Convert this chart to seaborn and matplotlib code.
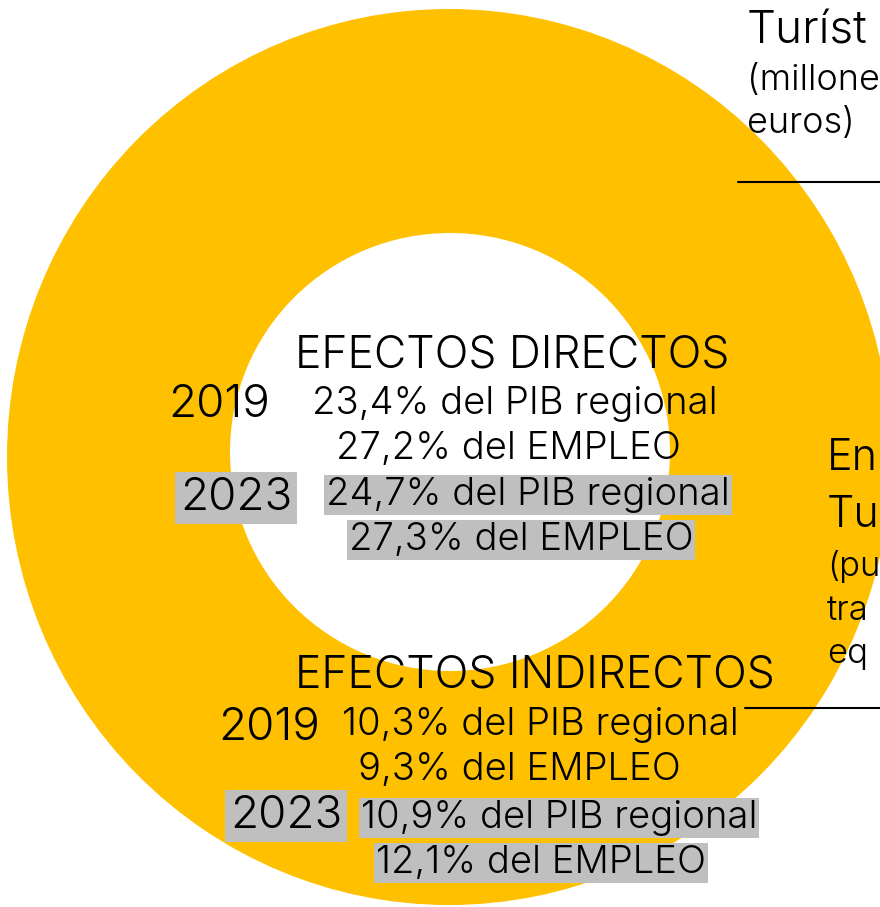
import matplotlib.pyplot as plt
import seaborn as sns
from matplotlib.patches import Ellipse

# datos de la infografia
years = ["2019", "2023"]
titulos = ["EFECTOS DIRECTOS", "EFECTOS INDIRECTOS"]
directos_pib = [23.4, 24.7]
directos_empleo = [27.2, 27.3]
indirectos_pib = [10.3, 10.9]
indirectos_empleo = [9.3, 12.1]
# lo que se ve de las etiquetas de la derecha (cortadas en el original)
etiqueta_gasto = ["Turíst", "(millone", "euros)"]
etiqueta_empleo = ["En", "Tu", "(pu", "tra", "eq"]

AMARILLO = "#FFC000"
GRIS = "#BFBFBF"

sns.set_theme(style="white")
plt.rcParams['font.family'] = ['Inter', 'DejaVu Sans']


def pct(v, texto):
    """formatea el valor con coma decimal"""
    return "{}% {}".format(("%.1f" % v).replace(".", ","), texto)


fig = plt.figure(figsize=(8.8, 9.07), dpi=100)
ax = fig.add_axes([0, 0, 1, 1])
ax.set_xlim(0, 880)
ax.set_ylim(907, 0)
ax.axis('off')

# anillo amarillo
ax.add_patch(Ellipse((449, 457), 884, 896, color=AMARILLO, lw=0))
ax.add_patch(Ellipse((450, 452), 440, 438, color="white", lw=0))

kw = dict(color="black", fontweight=300, va="baseline", ha="center")
caja = dict(facecolor=GRIS, edgecolor="none", boxstyle="square,pad=0.05")
caja_anio = dict(facecolor=GRIS, edgecolor="none", boxstyle="square,pad=0.1")

# (titulo, pib, empleo, x/baseline del titulo, x anio, x pib, x empleo, baselines por anio)
bloques = [
    (titulos[0], directos_pib, directos_empleo, (512, 367),
     [219, 236], [515, 528], [508, 521], [(417, 414, 459), (510, 505, 550)]),
    (titulos[1], indirectos_pib, indirectos_empleo, (535, 688),
     [269, 286], [540, 559], [519, 541], [(740, 735, 780), (828, 828, 873)]),
]

for titulo, pib, empleo, (tx, ty), xa, xp, xe, ys in bloques:
    ax.text(tx, ty, titulo, fontsize=32, **kw)
    for i, year in enumerate(years):
        ya, yp, ye = ys[i]
        ax.text(xa[i], ya, year, fontsize=33, **kw,
                **(dict(bbox=caja_anio) if i == 1 else {}))
        extra = dict(bbox=caja) if i == 1 else {}
        ax.text(xp[i], yp, pct(pib[i], "del PIB regional"), fontsize=27.5, **kw, **extra)
        ax.text(xe[i], ye, pct(empleo[i], "del EMPLEO"), fontsize=27.5, **kw, **extra)

# etiquetas de la derecha
kw_izq = dict(color="black", fontweight=300, va="baseline", ha="left")
ax.text(747, 43, etiqueta_gasto[0], fontsize=33, **kw_izq)
ax.text(747, 90, etiqueta_gasto[1], fontsize=26, **kw_izq)
ax.text(747, 133, etiqueta_gasto[2], fontsize=26, **kw_izq)
ax.plot([738, 880], [182, 182], color="black", lw=1.5)

ax.text(827, 470, etiqueta_empleo[0], fontsize=31, **kw_izq)
ax.text(827, 527, etiqueta_empleo[1], fontsize=31, **kw_izq)
for texto, yb in zip(etiqueta_empleo[2:], [576, 620, 663]):
    ax.text(827, yb, texto, fontsize=25, **kw_izq)
ax.plot([745, 880], [708, 708], color="black", lw=1.5)

fig.savefig("out.png", dpi=100)
